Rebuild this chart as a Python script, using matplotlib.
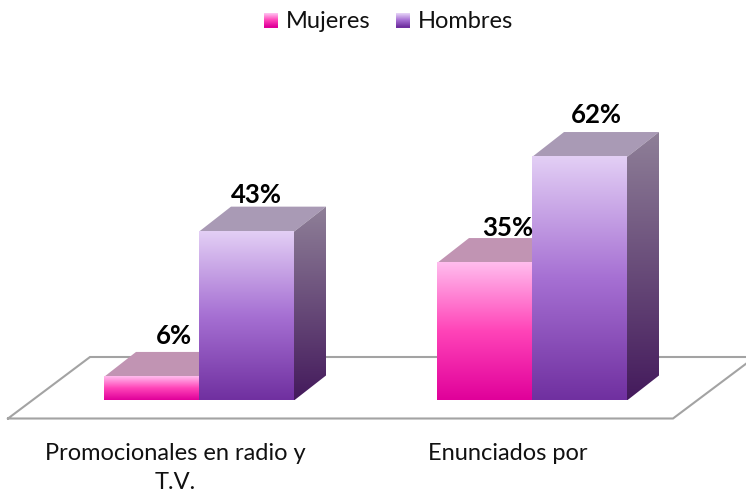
import numpy as np
import matplotlib
matplotlib.use("Agg")
import matplotlib.pyplot as plt
from matplotlib.colors import LinearSegmentedColormap
from matplotlib.patches import Polygon, Rectangle
from matplotlib.legend_handler import HandlerBase

plt.rcParams['font.family'] = ['Lato', 'DejaVu Sans']

categories = ["Promocionales en radio y\nT.V.", "Enunciados por"]
series_names = ["Mujeres", "Hombres"]
mujeres = [6, 35]
hombres = [43, 62]

W, H = 746, 494
fig = plt.figure(figsize=(W / 100, H / 100), dpi=100, facecolor="white")
AX_BOTTOM_PX = 430
ax = fig.add_axes([0, 1 - AX_BOTTOM_PX / H, 1, AX_BOTTOM_PX / H])

PX_PER_UNIT_Y = 3.927
PX_PER_GROUP = 333.0
BASE_PX, LABEL0_PX = 400.5, 175.0
ax.set_xlim(-LABEL0_PX / PX_PER_GROUP, (W - LABEL0_PX) / PX_PER_GROUP)
ax.set_ylim(-(AX_BOTTOM_PX - BASE_PX) / PX_PER_UNIT_Y, BASE_PX / PX_PER_UNIT_Y)
ax.set_autoscale_on(False)

BAR_W = 95.0 / PX_PER_GROUP
SHIFT = 24.0 / PX_PER_GROUP
DX = 32.0 / PX_PER_GROUP
DY = 25.0 / PX_PER_UNIT_Y

STYLE = {
    "Mujeres": dict(front=["#FFBDEE", "#FF44B8", "#E0009A"], top="#C194B3",
                    side=["#A0729A", "#6A0A50"]),
    "Hombres": dict(front=["#E3CFF5", "#A670D3", "#7030A0"], top="#A99AB5",
                    side=["#8F8098", "#441A5C"]),
}


def cmap(colors):
    return LinearSegmentedColormap.from_list("g", colors, N=256)


def gradient(colors, extent, clip=None, z=3):
    grad = np.linspace(0, 1, 256).reshape(-1, 1)
    im = ax.imshow(grad, cmap=cmap(colors), extent=extent, origin="upper",
                   aspect="auto", zorder=z, interpolation="bilinear")
    if clip is not None:
        patch = Polygon(clip, closed=True, transform=ax.transData, fc="none", ec="none")
        ax.add_patch(patch)
        im.set_clip_path(patch)
    return im


def bar3d(x0, value, st):
    x1 = x0 + BAR_W
    top = [(x0, value), (x1, value), (x1 + DX, value + DY), (x0 + DX, value + DY)]
    ax.add_patch(Polygon(top, closed=True, fc=st["top"], ec="none", zorder=3))
    side = [(x1, 0), (x1 + DX, DY), (x1 + DX, value + DY), (x1, value)]
    gradient(st["side"], (x1, x1 + DX, 0, value + DY), clip=side)
    gradient(st["front"], (x0, x1, 0, value), z=4)


# floor
FLOOR_FRONT = -18.0 / PX_PER_UNIT_Y
FLOOR_BACK = 43.5 / PX_PER_UNIT_Y
floor_x = np.array([8, 90, 755, 673, 8])
floor_y = [FLOOR_FRONT, FLOOR_BACK, FLOOR_BACK, FLOOR_FRONT, FLOOR_FRONT]
ax.plot((floor_x - LABEL0_PX) / PX_PER_GROUP, floor_y, color="#A3A3A3", lw=1.5, zorder=1,
        solid_joinstyle="miter")

positions = np.arange(len(categories))
CENTER = 24.0 / PX_PER_GROUP
for i in positions:
    bar3d(i + CENTER - BAR_W, mujeres[i], STYLE["Mujeres"])
    bar3d(i + CENTER, hombres[i], STYLE["Hombres"])

# data labels, offset in px from the front top edge centre
offsets_m = [(22.5, 41), (23, 35)]
offsets_h = [(10, 37), (17, 42)]
for i in positions:
    for val, x0, off in ((mujeres[i], i + CENTER - BAR_W, offsets_m[i]),
                         (hombres[i], i + CENTER, offsets_h[i])):
        ax.annotate(f"{val}%", xy=(x0 + BAR_W / 2, val), xytext=(off[0] * 0.72, off[1] * 0.72),
                    textcoords="offset points", ha="center", va="center",
                    fontsize=18.5, fontweight="bold", color="black", zorder=6)

ax.set_xticks(positions)
ax.set_xticklabels(categories, fontsize=17, color="#111111", linespacing=1.5)
ax.tick_params(axis="x", length=0, pad=9)
ax.set_yticks([])
for s in ax.spines.values():
    s.set_visible(False)
ax.patch.set_alpha(0)


class GradHandler(HandlerBase):
    def __init__(self, colors):
        super().__init__()
        self.colors = colors

    def create_artists(self, legend, orig, xd, yd, width, height, fontsize, trans):
        cm = cmap(self.colors)
        n = 14
        arts = []
        for k in range(n):
            r = Rectangle((-xd, -yd + height * (n - 1 - k) / n), width, height / n + 0.1,
                          fc=cm(k / (n - 1)), ec="none", transform=trans)
            arts.append(r)
        return arts


h1 = Rectangle((0, 0), 1, 1, label=series_names[0])
h2 = Rectangle((0, 0), 1, 1, label=series_names[1])
fig.legend(handles=[h1, h2], labels=series_names, loc="center",
           bbox_to_anchor=(388.5 / W, 1 - 22 / H), ncol=2, frameon=False,
           fontsize=17, labelcolor="#111111",
           handlelength=0.6, handleheight=0.6, handletextpad=0.34, columnspacing=1.05,
           handler_map={h1: GradHandler(STYLE["Mujeres"]["front"]),
                        h2: GradHandler(STYLE["Hombres"]["front"])})

fig.savefig("out.png", dpi=100, facecolor="white")
